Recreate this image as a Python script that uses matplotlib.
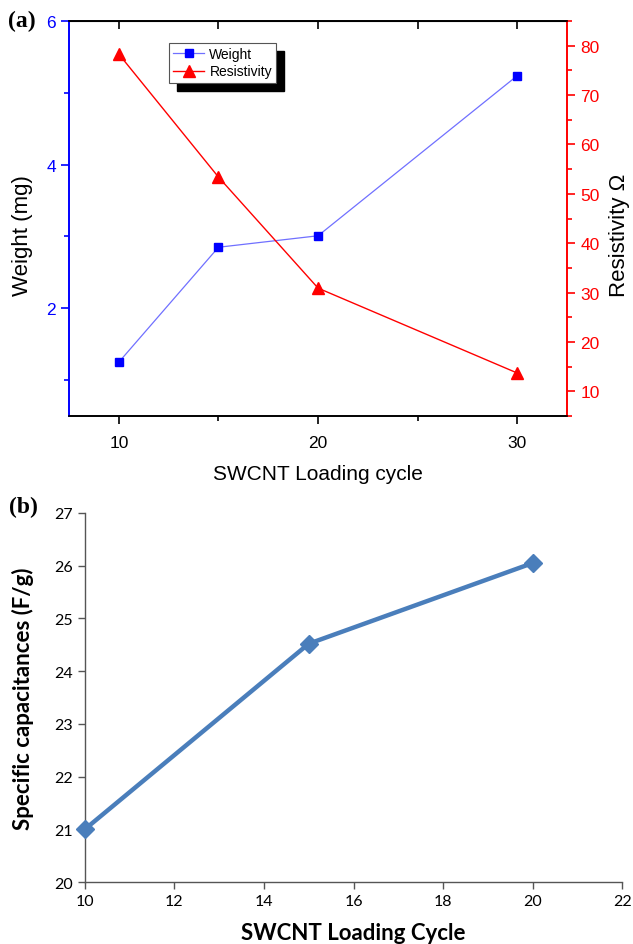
import numpy as np
import matplotlib.pyplot as plt
from matplotlib.ticker import MultipleLocator
from matplotlib.patches import Rectangle

# ----- panel (a) data -----
cycles_a = [10, 15, 20, 30]
weight_mg = [1.25, 2.85, 3.01, 5.24]
resist_ohm = [78.3, 53.4, 30.9, 13.7]

# ----- panel (b) data -----
cycles_b = [10, 15, 20]
spec_cap = [21.0, 24.52, 26.05]

fig = plt.figure(figsize=(6.33, 9.45), dpi=100)

# ================= (a) =================
ax = fig.add_axes([0.109, 0.5587, 0.787, 0.418])
ax2 = ax.twinx()
arial = 'Liberation Sans'

ax.plot(cycles_a, weight_mg, color='#7070ff', lw=0.9, marker='s', ms=6,
        mfc='#0000ff', mec='#0000ff', label='Weight', zorder=3)
ax2.plot(cycles_a, resist_ohm, color='#ff0000', lw=1.0, marker='^', ms=8,
         mfc='#ff0000', mec='#ff0000', label='Resistivity', zorder=3)

ax.set_xlim(7.5, 32.5)
ax.set_ylim(0.5, 6)
ax2.set_ylim(5, 85)

ax.set_xticks([10, 20, 30])
ax.xaxis.set_minor_locator(MultipleLocator(5))
ax.set_yticks([2, 4, 6])
ax.yaxis.set_minor_locator(MultipleLocator(1))
ax2.set_yticks([10, 20, 30, 40, 50, 60, 70, 80])
ax2.yaxis.set_minor_locator(MultipleLocator(5))

for a in (ax, ax2):
    for s in a.spines.values():
        s.set_linewidth(1.2)
ax.spines['left'].set_color('#0000ff')
ax2.spines['left'].set_color('#0000ff')
ax2.spines['right'].set_color('#ff0000')
ax.spines['right'].set_color('#ff0000')

ax.tick_params(axis='x', which='major', direction='out', length=6, width=1.2,
               labelsize=12.5, pad=8)
ax.tick_params(axis='x', which='minor', direction='out', length=3.5, width=1.2)
ax.tick_params(axis='y', which='major', direction='out', length=6, width=1.2,
               colors='#0000ff', labelsize=12.5, labelcolor='#0000ff')
ax.tick_params(axis='y', which='minor', direction='out', length=3.5, width=1.2,
               colors='#0000ff')
ax2.tick_params(axis='y', which='major', direction='out', length=6, width=1.2,
                colors='#ff0000', labelsize=12.5)
ax2.tick_params(axis='y', which='minor', direction='out', length=3.5, width=1.2,
                colors='#ff0000')
for lab in ax.get_xticklabels() + ax.get_yticklabels() + ax2.get_yticklabels():
    lab.set_family(arial)

# top axis ticks pointing in
top = ax.secondary_xaxis('top')
top.set_xticks([10, 15, 20, 25, 30])
top.tick_params(direction='in', length=6, width=1.2, labeltop=False)

ax.set_xlabel('SWCNT Loading cycle', fontsize=15, family=arial, labelpad=10)
ax.set_ylabel('Weight (mg)', fontsize=16, family=arial)
ax.yaxis.set_label_coords(-0.072, 0.46)
ax2.set_ylabel('Resistivity Ω', fontsize=16, family=arial, rotation=90)
ax2.yaxis.set_label_coords(1.084, 0.46)

h1, l1 = ax.get_legend_handles_labels()
h2, l2 = ax2.get_legend_handles_labels()
leg = ax2.legend(h1 + h2, l1 + l2, loc='upper left', bbox_to_anchor=(0.201, 0.945),
                 prop={'family': arial, 'size': 10}, frameon=True, fancybox=False,
                 edgecolor='#555555', framealpha=1, handlelength=2.2,
                 borderpad=0.3, labelspacing=0.25, handletextpad=0.4,
                 borderaxespad=0)
leg.get_frame().set_linewidth(0.8)

# black drop shadow behind the legend box
fig.canvas.draw()
bb = leg.get_window_extent()
shadow = Rectangle((bb.x0 + 8, bb.y0 - 8), bb.width, bb.height,
                   transform=None, facecolor='k', edgecolor='k', zorder=4)
ax2.add_artist(shadow)
leg.set_zorder(5)

fig.text(0.012, 0.977, '(a)', fontsize=17, fontweight='bold',
         family='Liberation Serif', va='center')

# ================= (b) =================
bx = fig.add_axes([0.134, 0.0656, 0.849, 0.3905])
bx.plot(cycles_b, spec_cap, color='#4a7ebb', lw=3.2, marker='D', ms=9,
        mfc='#4a7ebb', mec='#4a7ebb', clip_on=False, zorder=3)
bx.set_xlim(10, 22)
bx.set_ylim(20, 27)
bx.set_xticks(np.arange(10, 23, 2))
bx.set_yticks(np.arange(20, 28, 1))
bx.spines['top'].set_visible(False)
bx.spines['right'].set_visible(False)
for s in ('left', 'bottom'):
    bx.spines[s].set_color('#555555')
    bx.spines[s].set_linewidth(1.0)
bx.tick_params(direction='out', length=5, width=1.0, color='#555555',
               labelsize=11.5)
for lab in bx.get_xticklabels() + bx.get_yticklabels():
    lab.set_family('Lato')
bx.set_xlabel('SWCNT Loading Cycle', fontsize=16, fontweight='bold',
              family='Lato', labelpad=10)
bx.set_ylabel('Specific capacitances (F/g)', fontsize=16, fontweight='bold',
              family='Lato')
bx.yaxis.set_label_coords(-0.095, 0.5)

fig.text(0.015, 0.4635, '(b)', fontsize=17, fontweight='bold',
         family='Liberation Serif', va='center')

fig.savefig('out.png', dpi=100)
